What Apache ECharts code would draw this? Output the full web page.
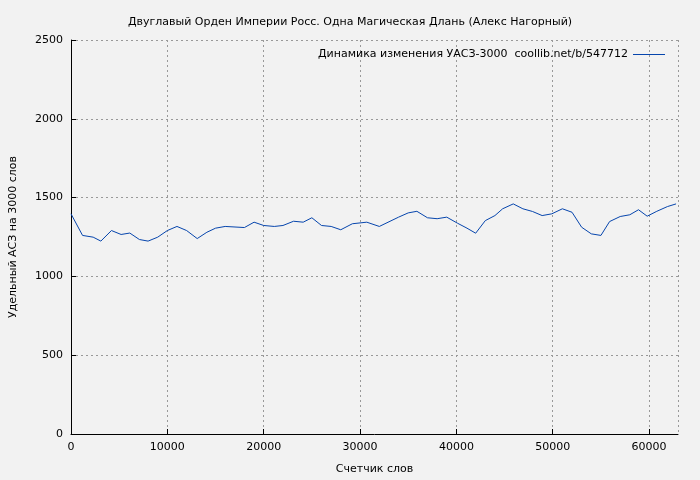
<!DOCTYPE html>
<html><head><meta charset="utf-8">
<script src="https://cdn.jsdelivr.net/npm/echarts@6/dist/echarts.min.js"></script>
<style>html,body{margin:0;padding:0;background:#f2f2f2}#c{width:700px;height:480px}</style>
</head><body><div id="c"></div>
<script>
const words=[0,1200,2300,3100,4200,5200,6100,7100,8000,9000,10000,11000,12000,13100,14100,15000,16000,18000,19000,20000,21100,22000,23100,24100,25000,26000,27000,28000,29200,30700,32000,34000,35000,35900,37000,38000,39000,40100,41100,42000,43000,44000,44800,45900,46900,47900,48900,49900,51000,52000,53000,54000,55000,55900,57000,58000,58900,59800,60800,61900,62800];
const values=[1397,1260,1249,1224,1291,1266,1275,1234,1224,1249,1291,1317,1291,1240,1280,1306,1317,1310,1344,1323,1317,1323,1350,1344,1372,1323,1317,1296,1334,1344,1317,1376,1403,1413,1372,1366,1376,1338,1306,1274,1354,1386,1429,1460,1429,1412,1386,1397,1429,1407,1312,1270,1260,1348,1380,1391,1423,1382,1413,1443,1460];
const seriesName='Динамика изменения УАСЗ-3000  coollib.net/b/547712';
const font='DejaVu Sans';
const ch=echarts.init(document.getElementById('c'));
ch.setOption({
 backgroundColor:'#f2f2f2',
 textStyle:{fontFamily:font},
 title:{text:'Двуглавый Орден Империи Росс. Одна Магическая Длань (Алекс Нагорный)',left:'center',top:12,textStyle:{fontSize:11,fontWeight:'normal',color:'#000',fontFamily:font}},
 legend:{right:30,top:44,align:'right',itemWidth:32,itemHeight:1,icon:'rect',textStyle:{fontSize:11,color:'#000',fontFamily:font},data:[seriesName]},
 grid:{left:68,right:22,top:40,bottom:46},
 xAxis:{type:'value',min:0,max:63000,interval:10000,name:'Счетчик слов',nameLocation:'middle',nameGap:30,nameTextStyle:{fontSize:11,color:'#000'},
  axisLine:{lineStyle:{color:'#000'}},axisTick:{inside:true,lineStyle:{color:'#000'}},axisLabel:{fontSize:11,color:'#000',formatter:v=>String(v)},
  splitLine:{show:true,lineStyle:{color:'#999',type:[2,3]}}},
 yAxis:{type:'value',min:0,max:2500,interval:500,name:'Удельный АСЗ на 3000 слов',nameLocation:'middle',nameGap:52,nameTextStyle:{fontSize:11,color:'#000'},
  axisLine:{show:true,lineStyle:{color:'#000'}},axisTick:{show:true,inside:true,lineStyle:{color:'#000'}},axisLabel:{fontSize:11,color:'#000',formatter:v=>String(v)},
  splitLine:{show:true,lineStyle:{color:'#999',type:[2,3]}}},
 series:[{name:seriesName,type:'line',data:words.map((w,i)=>[w,values[i]]),showSymbol:false,lineStyle:{width:1,color:'#0645ad'},itemStyle:{color:'#0645ad'}}]
});
</script></body></html>
